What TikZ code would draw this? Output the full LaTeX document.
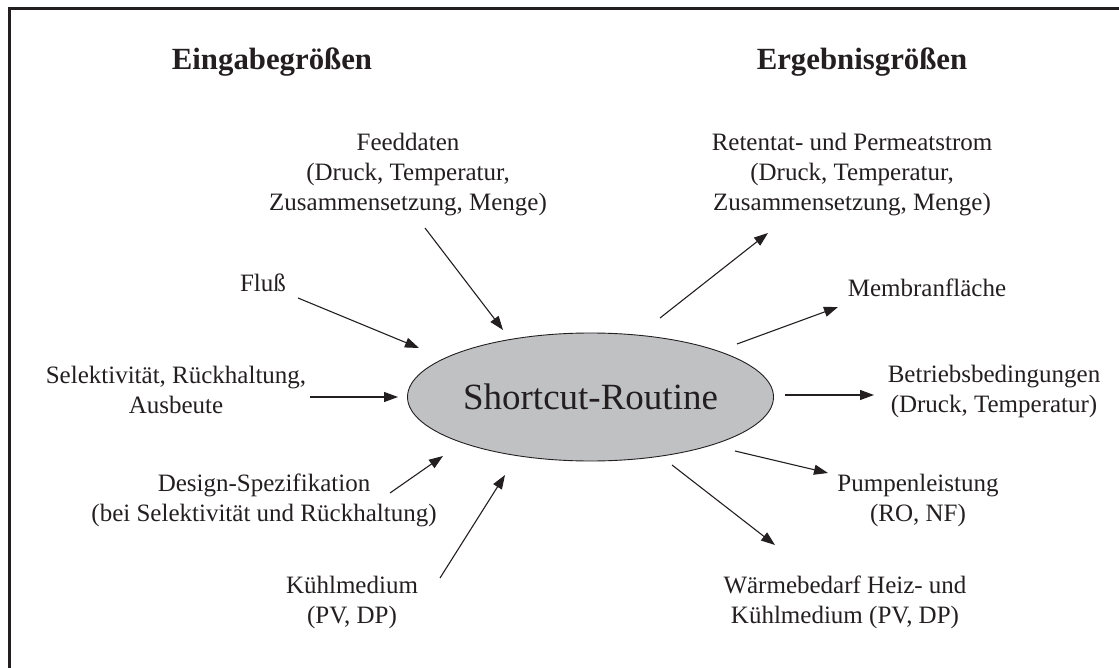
\documentclass[tikz,border=0pt]{standalone}
\usepackage{fontspec}
\setmainfont{Liberation Serif}
\usetikzlibrary{arrows.meta,shapes.geometric}
\definecolor{ink}{RGB}{35,31,32}
\definecolor{routinegray}{RGB}{192,193,195}
\begin{document}
\begin{tikzpicture}[x=1pt,y=-1pt,
  % multi-line labels: the base anchor sits on the last line
  lbl/.style={align=center,anchor=base,font=\fontsize{25}{30}\selectfont,text=ink,inner sep=0pt},
  head/.style={anchor=base,font=\fontsize{30.8}{36}\selectfont\bfseries,text=ink,inner sep=0pt},
  arr/.style={draw=ink,line width=1.1pt,-{Triangle[length=14pt,width=10pt]}},
  routine/.style={ellipse,draw=ink,line width=0.9pt,fill=routinegray,
    minimum width=366pt,minimum height=128pt,inner sep=0pt,
    font=\fontsize{37}{44}\selectfont,text=ink},
]
\useasboundingbox (0,0) rectangle (1119,668);
% frame
\draw[ink,line width=3pt] (9.5,668) -- (9.5,8.5) -- (1119,8.5);

% headings
\node[head] (in)  at (272,70) {Eingabegrößen};
\node[head] (out) at (862,70) {Ergebnisgrößen};

% central routine
\node[routine] (sr) at (590.5,397) {Shortcut-Routine};

% inputs
\node[lbl] (feed)   at (408,211) {Feeddaten\\(Druck, Temperatur,\\Zusammensetzung, Menge)};
\node[lbl] (flux)   at (263,292) {Fluß};
\node[lbl] (sel)    at (176,413) {Selektivität, Rückhaltung,\\Ausbeute};
\node[lbl] (design) at (264,521) {Design-Spezifikation\\(bei Selektivität und Rückhaltung)};
\node[lbl] (cool)   at (352,623) {Kühlmedium\\(PV, DP)};

% results
\node[lbl] (ret)  at (852,211) {Retentat- und Permeatstrom\\(Druck, Temperatur,\\Zusammensetzung, Menge)};
\node[lbl] (area) at (927,297) {Membranfläche};
\node[lbl] (oper) at (994,412) {Betriebsbedingungen\\(Druck, Temperatur)};
\node[lbl] (pump) at (918,521) {Pumpenleistung\\(RO, NF)};
\node[lbl] (heat) at (845,623) {Wärmebedarf Heiz- und\\Kühlmedium (PV, DP)};

% arrow end points
\coordinate (feed-a)   at (425,228); \coordinate (feed-b)   at (503,330);
\coordinate (flux-a)   at (298,298); \coordinate (flux-b)   at (419,348);
\coordinate (sel-a)    at (310,397); \coordinate (sel-b)    at (398,397);
\coordinate (design-a) at (390,493); \coordinate (design-b) at (443,456);
\coordinate (cool-a)   at (440,578); \coordinate (cool-b)   at (505,475);
\coordinate (ret-a)    at (660,318); \coordinate (ret-b)    at (768,233);
\coordinate (area-a)   at (737,344); \coordinate (area-b)   at (838,307);
\coordinate (oper-a)   at (785,395); \coordinate (oper-b)   at (874,395);
\coordinate (pump-a)   at (735,451); \coordinate (pump-b)   at (828,473);
\coordinate (heat-a)   at (672,465); \coordinate (heat-b)   at (775,545);

\foreach \n in {feed,flux,sel,design,cool,ret,area,oper,pump,heat}
  \draw[arr] (\n-a) -- (\n-b);
\end{tikzpicture}
\end{document}
